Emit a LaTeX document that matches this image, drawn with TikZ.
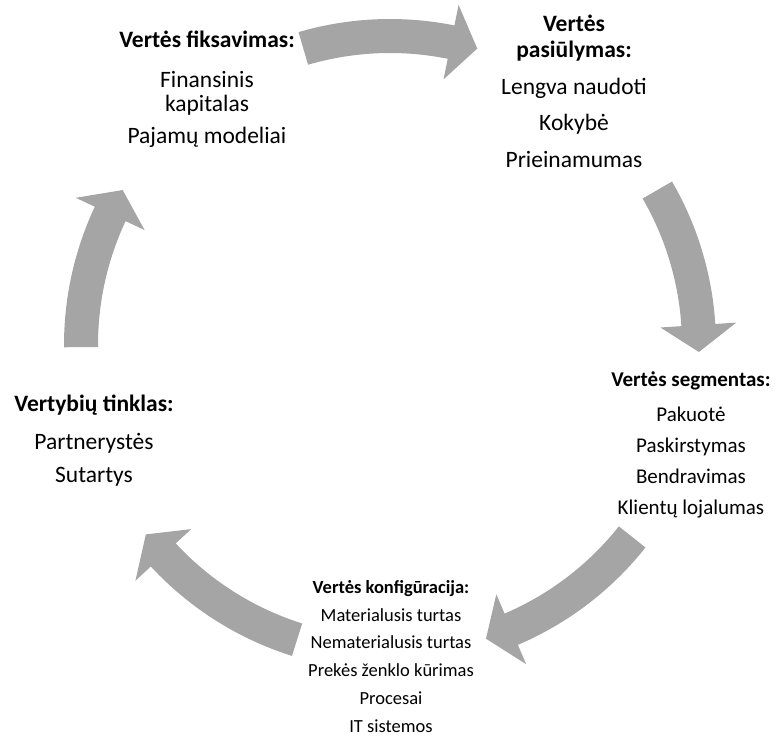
\documentclass[tikz,border=0pt]{standalone}
\usepackage{fontspec}
\setmainfont{Carlito}
\usepackage{tikz}
\definecolor{pilka}{RGB}{165,165,165}
\newcommand\rodykle[3]{%
  \fill[pilka] (#1:326pt) arc[start angle=#1,end angle=#2,radius=326pt]
    -- (#2:347pt) -- (#3:309pt) -- (#2:271pt) -- (#2:292pt)
    arc[start angle=#2,end angle=#1,radius=292pt] -- cycle;}

\begin{document}
\begin{tikzpicture}[x=1pt,y=1pt,
  blokas/.style={align=center,inner sep=0pt,anchor=north}]
\useasboundingbox (0,0) rectangle (775,737);
\begin{scope}[shift={(390,392)}]
\rodykle{106.3}{78.6}{73.6}
\rodykle{30.1}{3.7}{-1.3}
\rodykle{-38.4}{-66.9}{-71.9}
\rodykle{-107.5}{-137.2}{-142.2}
\rodykle{180.4}{154.9}{149.9}
\end{scope}
\node (fiks) at (207,706) [blokas,font=\fontsize{23.5}{24}\selectfont]
  {\textbf{Vertės fiksavimas:}\\[16pt] Finansinis\\ kapitalas\\[7.5pt] Pajamų modeliai};
\node (pasiul) at (574,722) [blokas,font=\fontsize{23.5}{26}\selectfont]
  {\textbf{Vertės}\\ \textbf{pasiūlymas:}\\[10.5pt] Lengva naudoti\\[10.5pt] Kokybė\\[10.5pt] Prieinamumas};
\node (segm) at (691,365) [blokas,font=\fontsize{21}{31}\selectfont]
  {\textbf{Vertės segmentas:}\\[4pt] Pakuotė\\ Paskirstymas\\ Bendravimas\\ Klientų lojalumas};
\node (tinkl) at (94,342) [blokas,font=\fontsize{23.5}{33}\selectfont]
  {\textbf{Vertybių tinklas:}\\[5pt] Partnerystės\\ Sutartys};
\node (konf) at (391,157) [blokas,font=\fontsize{18.5}{27.8}\selectfont]
  {\textbf{Vertės konfigūracija:}\\ Materialusis turtas\\ Nematerialusis turtas\\ Prekės ženklo kūrimas\\ Procesai\\ IT sistemos};
\end{tikzpicture}
\end{document}
